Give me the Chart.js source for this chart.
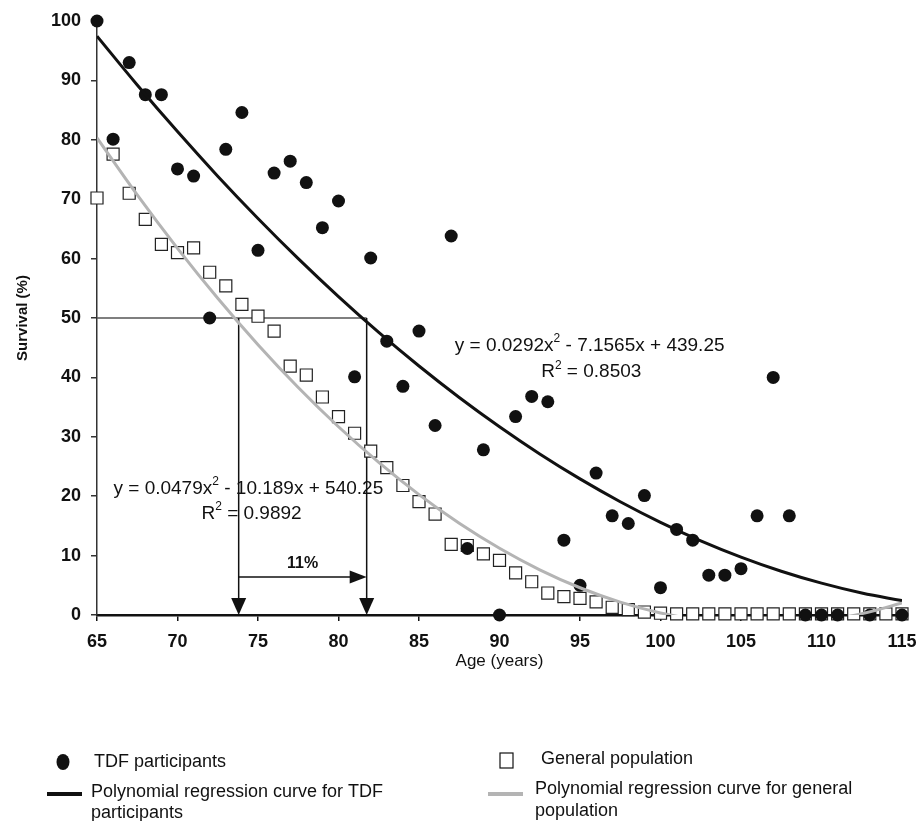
<!DOCTYPE html>
<html>
<head>
<meta charset="utf-8">
<title>Survival: TDF participants vs general population</title>
<script src="https://cdn.jsdelivr.net/npm/chart.js@4.4.1/dist/chart.umd.min.js"></script>
<style>
  html, body { margin: 0; padding: 0; background: #fff; }
  #wrap { width: 917px; height: 821px; }
</style>
</head>
<body>
<div id="wrap"><canvas id="survivalChart" width="917" height="821"></canvas></div>
<script>
// TDF participants, survival (%) by age
const tdfAges = [65, 66, 67, 68, 69, 70, 71, 72, 73, 74, 75, 76, 77, 78, 79, 80, 81, 82, 83, 84, 85, 86, 87, 88, 89, 90,
  91, 92, 93, 94, 95, 96, 97, 98, 99, 100, 101, 102, 103, 104, 105, 106, 107, 108, 109, 110, 111, 113, 115];
const tdfSurvival = [100, 80.1, 93.0, 87.6, 87.6, 75.1, 73.9, 50.0, 78.4, 84.6, 61.4, 74.4, 76.4, 72.8, 65.2, 69.7, 40.1, 60.1, 46.1, 38.5, 47.8, 31.9, 63.8, 11.2, 27.8, 0,
  33.4, 36.8, 35.9, 12.6, 5.0, 23.9, 16.7, 15.4, 20.1, 4.6, 14.4, 12.6, 6.7, 6.7, 7.8, 16.7, 40.0, 16.7, 0, 0, 0, 0, 0];

// general population
const popAges = [65, 66, 67, 68, 69, 70, 71, 72, 73, 74, 75, 76, 77, 78, 79, 80, 81, 82, 83, 84, 85, 86, 87, 88, 89, 90,
  91, 92, 93, 94, 95, 96, 97, 98, 99, 100, 101, 102, 103, 104, 105, 106, 107, 108, 109, 110, 111, 112, 113, 114, 115];
const popSurvival = [70.2, 77.6, 71.0, 66.6, 62.4, 61.0, 61.8, 57.7, 55.4, 52.3, 50.3, 47.8, 41.9, 40.4, 36.7, 33.4, 30.6, 27.6, 24.8, 21.8, 19.1, 17.0, 11.9, 11.7, 10.3, 9.2,
  7.1, 5.6, 3.7, 3.1, 2.8, 2.2, 1.3, 0.9, 0.5, 0.3, 0.2, 0.2, 0.2, 0.2, 0.2, 0.2, 0.2, 0.2, 0.2, 0.2, 0.2, 0.2, 0.2, 0.2, 0.2];

// regression curves, read every 2.5 years
const curveAges = [65, 67.5, 70, 72.5, 75, 77.5, 80, 82.5, 85, 87.5, 90, 92.5, 95, 97.5, 100, 102.5, 105, 107.5, 110, 112.5, 115];
const tdfCurve = [97.45, 89.23, 81.38, 73.88, 66.76, 60.00, 53.61, 47.58, 41.92, 36.62, 31.69, 27.11, 22.91, 19.07, 15.60, 12.49, 9.75, 7.37, 5.36, 3.70, 2.42];
const popCurve = [80.34, 70.73, 61.73, 53.32, 45.51, 38.30, 31.69, 25.68, 20.26, 15.44, 11.23, 7.61, 4.59, 2.17, 0.35, -0.87, -1.50, -1.53, -0.95, 0.22, 2.03];

// annotation values
const halfSurvival = 50;
const popMedianAge = 73.8;
const tdfMedianAge = 81.75;
const gapLevel = 6.4;
const gapLabel = '11%';
const tdfEquation = ['y = 0.0292x', '2', ' - 7.1565x + 439.25'];
const tdfR2 = ['R', '2', ' = 0.8503'];
const tdfEquationAt = [95.6, 45.4];
const tdfR2At = [95.7, 40.9];
const popEquation = ['y = 0.0479x', '2', ' - 10.189x + 540.25'];
const popR2 = ['R', '2', ' = 0.9892'];
const popEquationAt = [74.4, 21.3];
const popR2At = [74.6, 17.1];

const FONT = "'Liberation Sans', Arial, sans-serif";

function toPoints(xs, ys) {
  return xs.map((a, i) => ({ x: a, y: ys[i] }));
}

// text with a superscript part, centered at (cx, cy)
function drawSupText(ctx, parts, cx, cy, size) {
  const big = `${size}px ${FONT}`;
  const small = `${Math.round(size * 0.62)}px ${FONT}`;
  ctx.font = big;
  const w0 = ctx.measureText(parts[0]).width;
  const w2 = ctx.measureText(parts[2]).width;
  ctx.font = small;
  const w1 = ctx.measureText(parts[1]).width;
  let x0 = cx - (w0 + w1 + w2) / 2;
  ctx.textBaseline = 'middle';
  ctx.textAlign = 'left';
  ctx.font = big;
  ctx.fillText(parts[0], x0, cy);
  ctx.font = small;
  ctx.fillText(parts[1], x0 + w0, cy - size * 0.35);
  ctx.font = big;
  ctx.fillText(parts[2], x0 + w0 + w1, cy);
}

const annotationLines = {
  id: 'annotationLines',
  beforeDatasetsDraw(chart) {
    const { ctx, scales: { x, y } } = chart;
    const y50 = y.getPixelForValue(halfSurvival);
    const y0 = y.getPixelForValue(0);
    const xa = x.getPixelForValue(popMedianAge);
    const xb = x.getPixelForValue(tdfMedianAge);
    const yg = y.getPixelForValue(gapLevel);
    ctx.save();
    ctx.strokeStyle = '#555';
    ctx.lineWidth = 1.5;
    ctx.beginPath();
    ctx.moveTo(x.getPixelForValue(x.min), y50);
    ctx.lineTo(xb, y50);
    ctx.stroke();
    ctx.strokeStyle = '#111';
    ctx.fillStyle = '#111';
    [xa, xb].forEach(px => {
      ctx.beginPath();
      ctx.moveTo(px, y50);
      ctx.lineTo(px, y0 - 14);
      ctx.stroke();
      ctx.beginPath();
      ctx.moveTo(px - 7.5, y0 - 17);
      ctx.lineTo(px + 7.5, y0 - 17);
      ctx.lineTo(px, y0);
      ctx.closePath();
      ctx.fill();
    });
    ctx.beginPath();
    ctx.moveTo(xa, yg);
    ctx.lineTo(xb - 14, yg);
    ctx.stroke();
    ctx.beginPath();
    ctx.moveTo(xb - 17, yg - 6.5);
    ctx.lineTo(xb - 17, yg + 6.5);
    ctx.lineTo(xb, yg);
    ctx.closePath();
    ctx.fill();
    ctx.restore();
  },
  afterDatasetsDraw(chart) {
    const { ctx, scales: { x, y } } = chart;
    ctx.save();
    ctx.fillStyle = '#111';
    ctx.font = `bold 16px ${FONT}`;
    ctx.textAlign = 'center';
    ctx.textBaseline = 'middle';
    ctx.fillText(gapLabel, (x.getPixelForValue(popMedianAge) + x.getPixelForValue(tdfMedianAge)) / 2, y.getPixelForValue(gapLevel) - 13);
    drawSupText(ctx, tdfEquation, x.getPixelForValue(tdfEquationAt[0]), y.getPixelForValue(tdfEquationAt[1]), 19);
    drawSupText(ctx, tdfR2, x.getPixelForValue(tdfR2At[0]), y.getPixelForValue(tdfR2At[1]), 19);
    drawSupText(ctx, popEquation, x.getPixelForValue(popEquationAt[0]), y.getPixelForValue(popEquationAt[1]), 19);
    drawSupText(ctx, popR2, x.getPixelForValue(popR2At[0]), y.getPixelForValue(popR2At[1]), 19);
    ctx.restore();
  }
};

// legend in two columns under the plot
const bottomLegend = {
  id: 'bottomLegend',
  afterDraw(chart) {
    const ctx = chart.ctx;
    ctx.save();
    ctx.font = `18px ${FONT}`;
    ctx.fillStyle = '#111';
    ctx.textBaseline = 'middle';
    ctx.textAlign = 'left';
    // TDF participants
    ctx.beginPath();
    ctx.ellipse(63, 762, 6.5, 8, 0, 0, Math.PI * 2);
    ctx.fill();
    ctx.fillText('TDF participants', 94, 762);
    // General population
    ctx.strokeStyle = '#111';
    ctx.lineWidth = 1.2;
    ctx.strokeRect(500, 753, 13, 15);
    ctx.fillText('General population', 541, 759);
    // curves
    ctx.lineWidth = 4;
    ctx.beginPath();
    ctx.moveTo(47, 794);
    ctx.lineTo(82, 794);
    ctx.stroke();
    ctx.fillText('Polynomial regression curve for TDF', 91, 792);
    ctx.fillText('participants', 91, 813);
    ctx.strokeStyle = '#b4b4b4';
    ctx.beginPath();
    ctx.moveTo(488, 794);
    ctx.lineTo(523, 794);
    ctx.stroke();
    ctx.fillText('Polynomial regression curve for general', 535, 789);
    ctx.fillText('population', 535, 811);
    ctx.restore();
  }
};

const ctx = document.getElementById('survivalChart').getContext('2d');
new Chart(ctx, {
  type: 'scatter',
  data: {
    datasets: [{
      label: 'Polynomial regression curve for TDF participants',
      type: 'line',
      data: toPoints(curveAges, tdfCurve),
      borderColor: '#111',
      borderWidth: 3,
      pointRadius: 0,
      fill: false,
      tension: 0.4,
      order: 0
    }, {
      label: 'Polynomial regression curve for general population',
      type: 'line',
      data: toPoints(curveAges, popCurve),
      borderColor: '#b4b4b4',
      borderWidth: 3,
      pointRadius: 0,
      fill: false,
      tension: 0.4,
      order: 0
    }, {
      label: 'TDF participants',
      data: toPoints(tdfAges, tdfSurvival),
      pointStyle: 'circle',
      pointRadius: 6.5,
      backgroundColor: '#111',
      borderColor: '#111',
      borderWidth: 0,
      clip: false,
      order: 1
    }, {
      label: 'General population',
      data: toPoints(popAges, popSurvival),
      pointStyle: 'rect',
      pointRadius: 8.5,
      backgroundColor: '#fff',
      borderColor: '#222',
      borderWidth: 1.2,
      clip: false,
      order: 2
    }]
  },
  options: {
    responsive: false,
    animation: false,
    events: [],
    layout: { padding: { left: 0, top: 21, right: 0, bottom: 146 } },
    plugins: {
      legend: { display: false },
      tooltip: { enabled: false }
    },
    scales: {
      x: {
        type: 'linear',
        min: 65,
        max: 115,
        ticks: { stepSize: 5, color: '#111', padding: 10, font: { family: FONT, size: 18, weight: 'bold' } },
        grid: { drawOnChartArea: false, drawTicks: true, tickLength: 6, color: '#111', lineWidth: 1.5 },
        border: { display: true, color: '#111', width: 2.5 },
        title: { display: true, text: 'Age (years)', color: '#111', padding: { top: 0, bottom: 3 }, font: { family: FONT, size: 17 } },
        afterFit(scale) {
          scale.height = 60;
          scale.paddingLeft = 0;
          scale.paddingRight = 15;
        }
      },
      y: {
        min: 0,
        max: 100,
        ticks: { stepSize: 10, color: '#111', padding: 10, font: { family: FONT, size: 18, weight: 'bold' } },
        grid: { drawOnChartArea: false, drawTicks: true, tickLength: 6, color: '#333', lineWidth: 1.5 },
        border: { display: true, color: '#333', width: 1.5 },
        title: { display: true, text: 'Survival (%)', color: '#111', padding: { top: 14, bottom: 0 }, font: { family: FONT, size: 15, weight: 'bold' } },
        afterFit(scale) { scale.width = 97; }
      }
    }
  },
  plugins: [annotationLines, bottomLegend]
});
</script>
</body>
</html>
